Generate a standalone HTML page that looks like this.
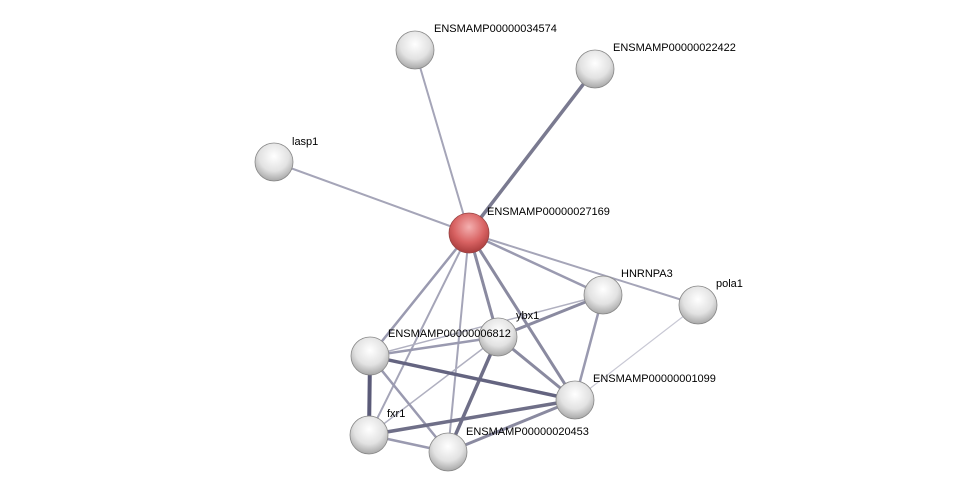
<!DOCTYPE html>
<html><head><meta charset="utf-8"><style>
html,body{margin:0;padding:0;background:#fff;}
svg{display:block;}
text{font-family:"Liberation Sans",sans-serif;font-size:11px;fill:#000;}
</style></head><body>
<svg width="976" height="498" viewBox="0 0 976 498" xmlns="http://www.w3.org/2000/svg">
<defs>
<radialGradient id="g" cx="50%" cy="35%" r="65%">
<stop offset="0" stop-color="#ffffff"/><stop offset="0.6" stop-color="#e2e2e2"/><stop offset="1" stop-color="#a8a8a8"/>
</radialGradient>
<radialGradient id="r" cx="50%" cy="35%" r="65%">
<stop offset="0" stop-color="#f4b0b0"/><stop offset="0.6" stop-color="#d86262"/><stop offset="1" stop-color="#a83c3c"/>
</radialGradient>
</defs>
<g stroke-linecap="round">
<line x1="469" y1="233" x2="415" y2="50" stroke="#a5a5b8" stroke-width="2"/>
<line x1="469" y1="233" x2="595" y2="69" stroke="#7a7a90" stroke-width="3.5"/>
<line x1="469" y1="233" x2="274" y2="162" stroke="#a5a5b8" stroke-width="2"/>
<line x1="469" y1="233" x2="603" y2="295" stroke="#9a9ab0" stroke-width="2.5"/>
<line x1="469" y1="233" x2="698" y2="305" stroke="#a5a5b8" stroke-width="2"/>
<line x1="469" y1="233" x2="498" y2="337" stroke="#8a8aa0" stroke-width="3"/>
<line x1="469" y1="233" x2="370" y2="356" stroke="#9a9ab0" stroke-width="2.5"/>
<line x1="469" y1="233" x2="575" y2="400" stroke="#8a8aa0" stroke-width="3"/>
<line x1="469" y1="233" x2="369" y2="435" stroke="#a5a5b8" stroke-width="2"/>
<line x1="469" y1="233" x2="448" y2="452" stroke="#a5a5b8" stroke-width="2"/>
<line x1="603" y1="295" x2="498" y2="337" stroke="#8a8aa0" stroke-width="3"/>
<line x1="603" y1="295" x2="575" y2="400" stroke="#9a9ab0" stroke-width="2.5"/>
<line x1="603" y1="295" x2="370" y2="356" stroke="#b0b0c0" stroke-width="1.5"/>
<line x1="698" y1="305" x2="575" y2="400" stroke="#c8c8d4" stroke-width="1.2"/>
<line x1="498" y1="337" x2="370" y2="356" stroke="#9a9ab0" stroke-width="2.5"/>
<line x1="498" y1="337" x2="575" y2="400" stroke="#8a8aa0" stroke-width="3"/>
<line x1="498" y1="337" x2="369" y2="435" stroke="#b0b0c0" stroke-width="1.5"/>
<line x1="498" y1="337" x2="448" y2="452" stroke="#6f6f88" stroke-width="3.5"/>
<line x1="370" y1="356" x2="575" y2="400" stroke="#646480" stroke-width="3.5"/>
<line x1="370" y1="356" x2="369" y2="435" stroke="#5a5a78" stroke-width="4"/>
<line x1="370" y1="356" x2="448" y2="452" stroke="#9a9ab0" stroke-width="2.5"/>
<line x1="369" y1="435" x2="575" y2="400" stroke="#6f6f88" stroke-width="3.5"/>
<line x1="448" y1="452" x2="575" y2="400" stroke="#8a8aa0" stroke-width="3"/>
<line x1="369" y1="435" x2="448" y2="452" stroke="#9a9ab0" stroke-width="2.5"/>
</g>
<g stroke="#888" stroke-width="0.8">
<circle cx="415" cy="50" r="19" fill="url(#g)"/>
<circle cx="595" cy="69" r="19" fill="url(#g)"/>
<circle cx="274" cy="162" r="19" fill="url(#g)"/>
<circle cx="469" cy="233" r="20" fill="url(#r)" stroke="#944"/>
<circle cx="603" cy="295" r="19" fill="url(#g)"/>
<circle cx="698" cy="305" r="19" fill="url(#g)"/>
<circle cx="498" cy="337" r="19" fill="url(#g)"/>
<circle cx="370" cy="356" r="19" fill="url(#g)"/>
<circle cx="575" cy="400" r="19" fill="url(#g)"/>
<circle cx="369" cy="435" r="19" fill="url(#g)"/>
<circle cx="448" cy="452" r="19" fill="url(#g)"/>
</g>
<text x="434" y="32">ENSMAMP00000034574</text>
<text x="613" y="51">ENSMAMP00000022422</text>
<text x="292" y="145">lasp1</text>
<text x="487" y="215">ENSMAMP00000027169</text>
<text x="621" y="277">HNRNPA3</text>
<text x="716" y="287">pola1</text>
<text x="516" y="319">ybx1</text>
<text x="388" y="337">ENSMAMP00000006812</text>
<text x="593" y="382">ENSMAMP00000001099</text>
<text x="387" y="417">fxr1</text>
<text x="466" y="435">ENSMAMP00000020453</text>
</svg>
</body></html>
